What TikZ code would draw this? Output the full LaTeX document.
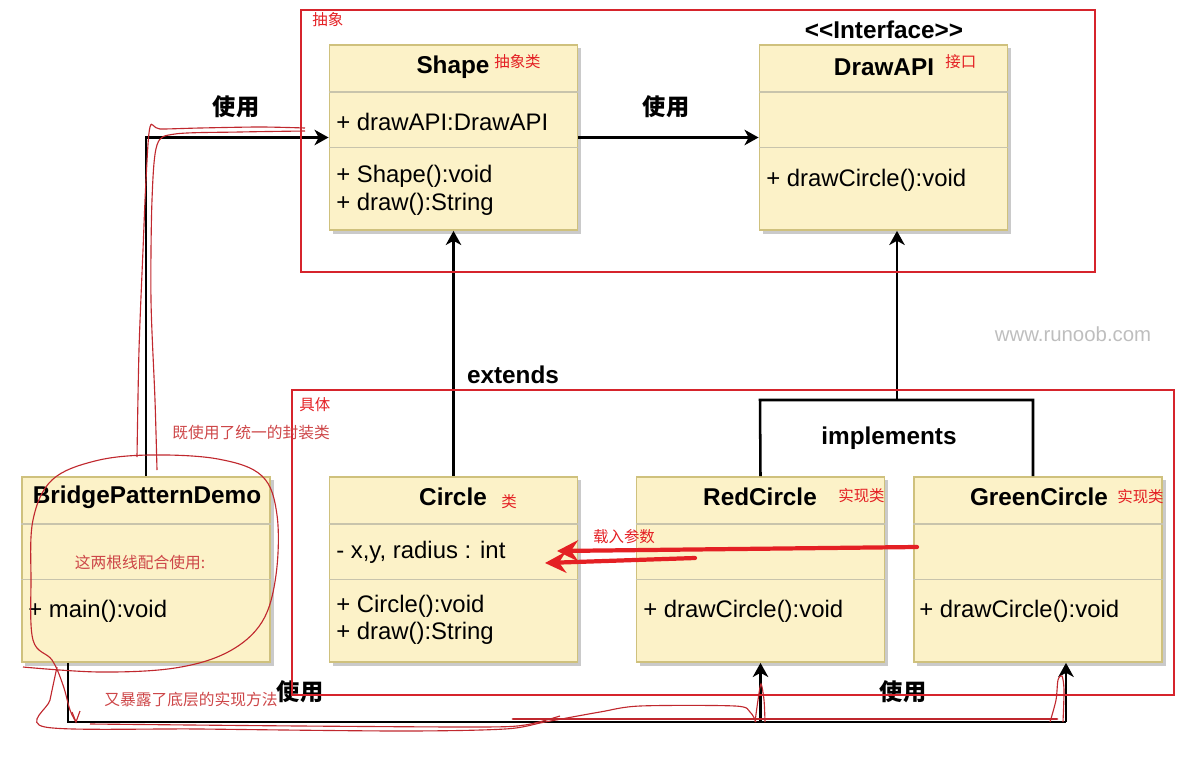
\documentclass[tikz,border=0pt]{standalone}
\usepackage{fontspec}
\setmainfont{Liberation Sans}[Ligatures=TeXOff]
\newfontfamily\cjk{Noto Sans CJK SC}
\usetikzlibrary{arrows.meta,shadows}

\definecolor{boxfill}{RGB}{252,242,200}
\definecolor{boxline}{RGB}{207,193,125}
\definecolor{sepgray}{RGB}{200,196,172}
\definecolor{frame}{RGB}{214,36,44}
\definecolor{ink}{RGB}{228,32,36}
\definecolor{pen}{RGB}{192,40,46}
\definecolor{pentext}{RGB}{205,70,72}
\definecolor{wmgray}{RGB}{190,190,190}

\tikzset{
  classbox/.style={draw=boxline, line width=1.3pt, fill=boxfill, minimum width=6.2cm,
    minimum height=4.625cm, inner sep=0pt,
    drop shadow={shadow xshift=2.5pt, shadow yshift=-2.5pt, opacity=.35, fill=black!60}},
  classname/.style={font=\fontsize{17.3}{20}\selectfont\bfseries, inner sep=0pt},
  member/.style={font=\fontsize{17}{20}\selectfont, anchor=west, inner sep=0pt},
  divider/.style={draw=sepgray, line width=1pt},
  assoc/.style={line width=1.8pt, -{Stealth[length=10pt,width=11pt,inset=3pt]}},
  wire/.style={line width=1.8pt},
  uselabel/.style={font=\cjk\fontsize{16.5}{19}\selectfont\bfseries, inner sep=0pt},
  relabel/.style={font=\fontsize{17.3}{20}\selectfont\bfseries, inner sep=0pt},
  redframe/.style={draw=frame, line width=1.4pt},
  tag/.style={text=ink, font=\cjk\fontsize{11}{13}\selectfont, inner sep=0pt},
  remark/.style={text=pentext, font=\cjk\fontsize{11.2}{13}\selectfont, inner sep=0pt},
  scribble/.style={draw=pen, line width=0.8pt},
  loadarrow/.style={draw=ink, line width=3pt, line cap=round,
    -{Stealth[length=15pt,width=15pt,inset=5pt]}},
}

\begin{document}
\begin{tikzpicture}[x=0.025cm,y=-0.025cm]
\useasboundingbox (0,0) rectangle (1196,769);

% class boxes
\node[classbox] (shape)   at (453.5,137.5) {};
\node[classbox] (drawapi) at (883.5,137.5) {};
\node[classbox] (demo)    at (146,569.5) {};
\node[classbox] (circle)  at (453.5,569.5) {};
\node[classbox] (red)     at (760.5,569.5) {};
\node[classbox] (green)   at (1038,569.5) {};

\foreach \c in {shape,drawapi,demo,circle,red,green}{
  \draw[divider] ([yshift=-1.2cm]\c.north west) -- ([yshift=-1.2cm]\c.north east);
  \draw[divider] ([yshift=-2.59cm]\c.north west) -- ([yshift=-2.59cm]\c.north east);
}

% names
\node[relabel] (iface) at (884,30) {<<Interface>>};
\node[classname] (shapeT)   at (453,67)  {Shape};
\node[classname] (drawapiT) at (884,67)  {DrawAPI};
\node[classname] (demoT)    at (147,497) {BridgePatternDemo};
\node[classname] (circleT)  at (453,497) {Circle};
\node[classname] (redT)     at (760,497) {RedCircle};
\node[classname] (greenT)   at (1039,497) {GreenCircle};

% members
\node[member] at (336,122) {+ drawAPI:DrawAPI};
\node[member] at (336,176) {+ Shape():void};
\node[member] at (336,204) {+ draw():String};
\node[member] at (766,180) {+ drawCircle():void};
\node[member] at (28,611)  {+ main():void};
\node[member] at (336,552) {- x,y, radius : int};
\node[member] at (336,606) {+ Circle():void};
\node[member] at (336,633) {+ draw():String};
\node[member] at (643,611) {+ drawCircle():void};
\node[member] at (919,611) {+ drawCircle():void};

% connectors
\draw[assoc] (demo.north) |- (shape.west);
\draw[assoc] (shape.east) -- (drawapi.west);
\draw[assoc] (circle.north) -- (shape.south);

\coordinate (barL) at (760,400);
\coordinate (barM) at (897,400);
\coordinate (barR) at (1033,400);
\draw[wire] (red.north) -- (barL) -- (barR) -- (barR |- green.north);
\draw[assoc] (barM) -- (barM |- drawapi.south);

\coordinate (busL) at (68,722);
\coordinate (busR) at (1066,722);
\draw[wire] (busL |- demo.south) -- (busL) -- (busR);
\draw[assoc] (red.south |- busL) -- (red.south);
\draw[assoc] (busR) -- (busR |- green.south);

\node[uselabel] at (236,107) {使用};
\node[uselabel] at (666,107) {使用};
\node[uselabel] at (300,692) {使用};
\node[uselabel] at (903,692) {使用};
\node[relabel] at (513,375) {extends};
\node[relabel] at (889,438) {implements};

\node[text=wmgray, font=\fontsize{14.5}{17}\selectfont] at (1073,334) {www.runoob.com};

% red notes
\draw[redframe] (301,10) rectangle (1095,272);
\draw[redframe] (292,390) rectangle (1174,695);
\node[tag, anchor=west] at (312,20)  {抽象};
\node[tag, anchor=west] at (299,405) {具体};
\node[tag, anchor=west] at (494,62)  {抽象类};
\node[tag, anchor=west] at (945,62)  {接口};
\node[tag, anchor=west] at (501,502) {类};
\node[tag, anchor=west] at (838,496) {实现类};
\node[tag, anchor=west] at (1117,497) {实现类};

% hand drawn marks
\draw[scribble] plot[smooth, tension=0.6] coordinates {(23,667) (100,672) (175,668) (228,652)
  (262,622) (276,575) (277,515) (262,476) (218,459) (150,455) (95,461) (52,480) (33,520)
  (31,580) (33,640) (52,660) (63,685) (70,710) (76,722)};
\draw[scribble] (72,712) -- (76,722) -- (80,711);
\draw[scribble] plot[smooth, tension=0.5] coordinates {(137,457) (139,350) (143,250) (146,180)
  (150,127) (160,129) (200,128) (260,127) (305,128)};
\draw[scribble] plot[smooth, tension=0.5] coordinates {(157,470) (155,400) (151,300) (152,200)
  (157,145) (175,134) (240,132) (305,131)};
\draw[scribble] plot[smooth, tension=0.5] coordinates {(57,667) (50,700) (45,727) (200,729)
  (400,731) (505,729) (545,722) (600,712) (640,706) (735,706) (750,712) (756,722)};
\draw[scribble] plot[smooth, tension=0.5] coordinates {(90,724) (300,726) (480,727) (525,725)
  (560,716)};
\draw[pen, line width=2pt, line cap=round] (513,719) -- (1057,719);
\draw[scribble] plot[smooth] coordinates {(755,722) (758,700) (761,684) (764,700) (765,722)};
\draw[scribble] plot[smooth] coordinates {(1050,722) (1056,700) (1058,680) (1062,676)
  (1064,690) (1063,722)};

\draw[loadarrow] (917,547) -- (557,551);
\draw[loadarrow] (695,558) -- (545,563);
\node[tag] at (624,537) {载入参数};

\node[remark] at (251,433) {既使用了统一的封装类};
\node[remark] at (140,562) {这两根线配合使用:};
\node[remark] at (191,700) {又暴露了底层的实现方法};
\end{tikzpicture}
\end{document}
